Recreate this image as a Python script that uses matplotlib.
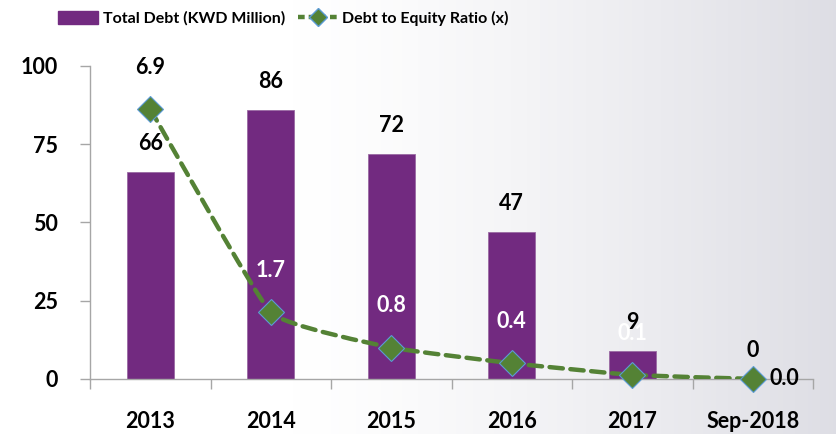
import numpy as np
import matplotlib
matplotlib.use("Agg")
import matplotlib.pyplot as plt
from matplotlib.path import Path
from matplotlib.patches import PathPatch
from matplotlib.lines import Line2D
from matplotlib.patches import Patch

plt.rcParams['font.family'] = ['Lato', 'DejaVu Sans']
plt.rcParams['font.weight'] = 'bold'

# data
years = ['2013', '2014', '2015', '2016', '2017', 'Sep-2018']
total_debt = [66, 86, 72, 47, 9, 0]
debt_equity = [6.9, 1.7, 0.8, 0.4, 0.1, 0.0]
ratio_labels = ['6.9', '1.7', '0.8', '0.4', '0.1', '0.0']
ratio_label_colors = ['black', 'white', 'white', 'white', 'white', 'black']

purple = '#722A80'
green = '#548235'

fig = plt.figure(figsize=(8.37, 4.34), dpi=100)

# background gradient (white on the left, light grey on the right)
bg = fig.add_axes([0, 0, 1, 1], zorder=-10)
gx = np.linspace(0, 1, 200)
gy = np.linspace(0, 1, 100)
GX, GY = np.meshgrid(gx, gy)
shade = np.clip((GX - 0.35) / 0.65, 0, 1) ** 1.3 * 0.13
img = np.dstack([1 - shade, 1 - shade, 1 - shade * 0.8])
bg.imshow(img, aspect='auto', extent=[0, 1, 0, 1])
bg.axis('off')

ax = fig.add_axes([0.1075, 0.127, 0.864, 0.721])
ax.patch.set_alpha(0)
x = np.arange(len(years))
ax.bar(x, total_debt, width=0.39, color=purple, edgecolor='#9a6aa3', linewidth=0.6, zorder=2)
ax.set_xlim(-0.5, len(years) - 0.5)
ax.set_ylim(0, 100)
ax.set_yticks([0, 25, 50, 75, 100])
ax.set_xticks(x)
ax.set_xticklabels(years)
ax.set_xticks(np.arange(-0.5, len(years)), minor=True)
ax.tick_params(axis='x', which='major', length=0, pad=23, labelsize=15.5)
ax.tick_params(axis='x', which='minor', length=7, color='#a6a6a6', width=1)
ax.tick_params(axis='y', length=7, color='#a6a6a6', width=1, pad=16, labelsize=15.5)
for s in ['top', 'right']:
    ax.spines[s].set_visible(False)
for s in ['left', 'bottom']:
    ax.spines[s].set_color('#a6a6a6')
    ax.spines[s].set_linewidth(1)

for xi, v in zip(x, total_debt):
    ax.annotate(str(v), (xi, v), xytext=(0, 13), textcoords='offset points',
                ha='center', va='bottom', fontsize=15.5, fontweight='bold')

# secondary axis for ratio
ax2 = ax.twinx()
ax2.set_ylim(0, 8)
ax2.axis('off')

# gently smoothed curve through the points (low-tension cubic bezier)
tension = 0.35
pts = np.column_stack([x, debt_equity]).astype(float)
verts = [pts[0]]
codes = [Path.MOVETO]
n = len(pts)
for i in range(n - 1):
    p0 = pts[i - 1] if i > 0 else pts[i]
    p1 = pts[i]
    p2 = pts[i + 1]
    p3 = pts[i + 2] if i + 2 < n else pts[i + 1]
    c1 = p1 + (p2 - p0) / 6 * tension
    c2 = p2 - (p3 - p1) / 6 * tension
    verts += [c1, c2, p2]
    codes += [Path.CURVE4] * 3
curve = PathPatch(Path(verts, codes), fill=False, edgecolor=green, linewidth=3.2,
                  linestyle=(0, (3, 1.7)), transform=ax2.transData, zorder=3,
                  capstyle='round')
ax2.add_patch(curve)
ax2.plot(x, debt_equity, linestyle='none', marker='D', markersize=13,
         markerfacecolor=green, markeredgecolor='#5b9bd5', markeredgewidth=0.8, zorder=4,
         clip_on=False)

for i, (xi, v) in enumerate(zip(x, debt_equity)):
    if i == n - 1:
        ax2.annotate(ratio_labels[i], (xi, v), xytext=(12, 0), textcoords='offset points',
                     ha='left', va='center', fontsize=15.5, fontweight='bold',
                     color=ratio_label_colors[i])
    else:
        ax2.annotate(ratio_labels[i], (xi, v), xytext=(0, 30), textcoords='offset points',
                     ha='center', va='center', fontsize=15.5, fontweight='bold',
                     color=ratio_label_colors[i])

handles = [Patch(facecolor=purple, edgecolor=purple),
           Line2D([0], [0], color=green, linewidth=3.2, linestyle=(0, (1.5, 0.9)),
                  marker='D', markersize=9, markerfacecolor=green, markeredgecolor='#5b9bd5')]
fig.legend(handles, ['Total Debt (KWD Million)', 'Debt to Equity Ratio (x)'],
           loc='center left', bbox_to_anchor=(0.052, 0.958), ncol=2, frameon=False,
           prop={'weight': 'bold', 'size': 11.5},
           handlelength=2.5, handleheight=0.9, columnspacing=0.8,
           handletextpad=0.3)

fig.savefig('out.png', dpi=100)
